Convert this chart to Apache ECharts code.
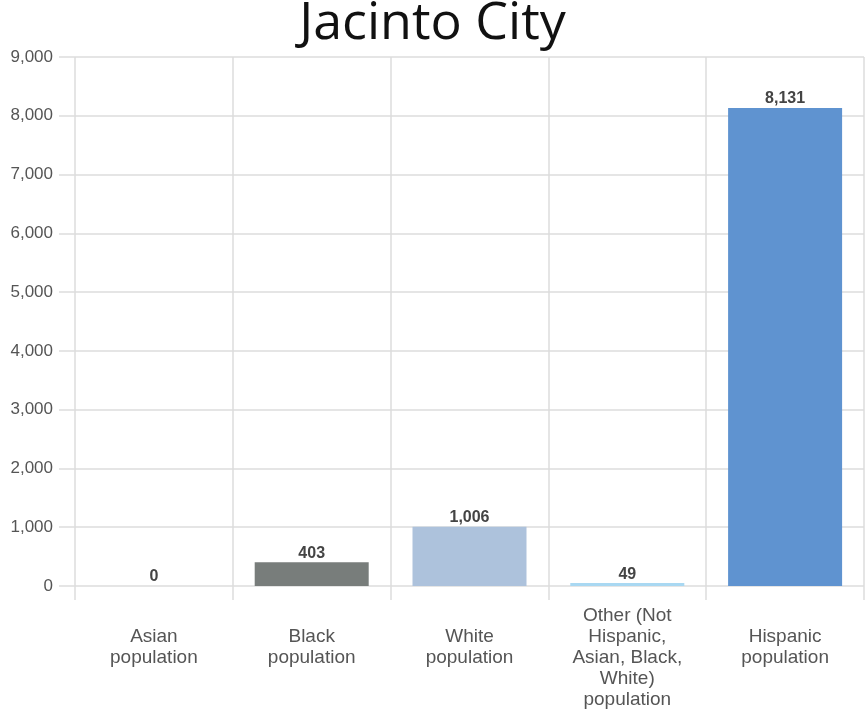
<!DOCTYPE html>
<html><head><meta charset="utf-8">
<script src="https://cdn.jsdelivr.net/npm/echarts@6/dist/echarts.min.js"></script>
<style>html,body{margin:0;padding:0;background:#fff}#c{width:865px;height:714px}</style>
</head><body><div id="c"></div>
<script>
const title = 'Jacinto City';
const categories = ['Asian\npopulation', 'Black\npopulation', 'White\npopulation', 'Other (Not\nHispanic,\nAsian, Black,\nWhite)\npopulation', 'Hispanic\npopulation'];
const values = [0, 403, 1006, 49, 8131];
const barColors = ['#7f8c8d', '#787d7b', '#adc2dc', '#a9d8f2', '#5f93d0'];
const yTicks = [0, 1000, 2000, 3000, 4000, 5000, 6000, 7000, 8000, 9000];

const chart = echarts.init(document.getElementById('c'));
chart.setOption({
  animation: false,
  title: { text: title, left: 'center', top: -7, textStyle: { fontFamily: 'Open Sans', fontSize: 52, fontWeight: 'normal', color: '#111' } },
  grid: { left: 75, right: 1, top: 57, bottom: 128, containLabel: false, outerBoundsMode: 'none' },
  xAxis: {
    type: 'category',
    data: categories.map(c => c.split('\n').length > 3 ? { value: c, textStyle: { padding: [-21, 0, 0, 0] } } : c),
    axisLine: { show: false },
    axisTick: { show: true, length: 14, lineStyle: { color: '#ddd', width: 1.5 } },
    splitLine: { show: true, lineStyle: { color: '#ddd', width: 1.5 } },
    axisLabel: { interval: 0, margin: 40, fontFamily: 'Arial', fontSize: 19, lineHeight: 21, color: '#555' }
  },
  yAxis: {
    type: 'value', min: 0, max: 9000, interval: 1000,
    axisLine: { show: false },
    axisTick: { show: true, length: 16, lineStyle: { color: '#ddd', width: 1.5 } },
    splitLine: { show: true, lineStyle: { color: '#ddd', width: 1.5 } },
    axisLabel: { margin: 22, fontFamily: 'Arial', fontSize: 17, color: '#555',
      formatter: v => yTicks.includes(v) ? v.toLocaleString('en-US') : '' }
  },
  series: [{
    type: 'bar', barWidth: 114,
    data: values.map((v, i) => ({ value: v, itemStyle: { color: barColors[i] } })),
    label: { show: true, position: 'top', distance: 1, fontFamily: 'Arial', fontWeight: 'bold', fontSize: 16, color: '#444',
      formatter: p => p.value.toLocaleString('en-US') }
  }]
});
</script></body></html>
